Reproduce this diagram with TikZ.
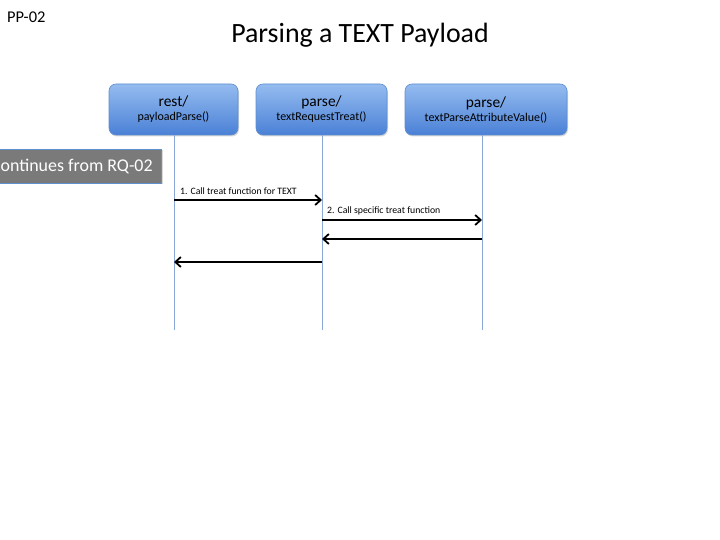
\documentclass[tikz,border=0pt]{standalone}
\usepackage{fontspec}
\setmainfont{Carlito}
\usetikzlibrary{arrows.meta,shadows}
\definecolor{boxtop}{HTML}{95BCF0}
\definecolor{boxbot}{HTML}{4A80D6}
\definecolor{boxline}{HTML}{5E8FCF}
\definecolor{lifeline}{HTML}{8AA8D8}
\definecolor{greybox}{HTML}{7A7A7A}
\tikzset{
  actor/.style={draw=boxline, line width=0.6bp, rounded corners=7bp, top color=boxtop, bottom color=boxbot,
    minimum height=51bp, align=center, inner sep=0pt, drop shadow={shadow xshift=1bp,shadow yshift=-1.5bp,opacity=0.3}},
  life/.style={draw=lifeline, line width=1bp},
  msg/.style={draw=black, line width=1.1bp, -{Straight Barb[length=5.5bp,width=10bp,line width=1.8bp]}},
  lbl/.style={font=\fontsize{9.8}{11}\selectfont, anchor=south west, inner sep=0pt},
}
\begin{document}
\begin{tikzpicture}[x=1bp,y=-1bp]
\useasboundingbox (0,0) rectangle (720,540);
\clip (0,0) rectangle (720,540);
\fill[white] (0,0) rectangle (720,540);
\node[anchor=west, font=\fontsize{16.5}{18}\selectfont, inner sep=0pt] (pp) at (7,17) {PP-02};
\node[font=\fontsize{28}{32}\selectfont, inner sep=0pt] (title) at (360,35) {Parsing a TEXT Payload};

\node[actor, minimum width=129bp] (a1) at (173.5,109.5) {{\fontsize{15.5}{17}\selectfont rest/}\\[2bp]{\fontsize{12}{13}\selectfont payloadParse()}};
\node[actor, minimum width=131bp] (a2) at (321.5,109.5) {{\fontsize{15.5}{17}\selectfont parse/}\\[2bp]{\fontsize{12}{13}\selectfont textRequestTreat()}};
\node[actor, minimum width=162bp] (a3) at (486,109.5) {{\fontsize{15.5}{17}\selectfont parse/}\\[2bp]{\fontsize{12}{13}\selectfont textParseAttributeValue()}};

\coordinate (e1) at (174,330);
\coordinate (e2) at (322,330);
\coordinate (e3) at (482,330);
\draw[life] (a1.south -| e1) -- (e1);
\draw[life] (a2.south -| e2) -- (e2);
\draw[life] (a3.south -| e3) -- (e3);

\node[draw=boxline, line width=0.6bp, fill=greybox, text=white, anchor=east, minimum height=34bp, inner xsep=9bp, inner ysep=0pt,
  font=\fontsize{18}{20}\selectfont, drop shadow={shadow xshift=1bp,shadow yshift=-1.5bp,opacity=0.3}] (cont) at (162,166) {Continues from RQ-02};

\coordinate (m1a) at (174,200); \coordinate (m1b) at (322,200);
\coordinate (m2a) at (322,220); \coordinate (m2b) at (482,220);
\coordinate (m3a) at (482,239); \coordinate (m3b) at (322,239);
\coordinate (m4a) at (322,262); \coordinate (m4b) at (174,262);
\draw[msg] (m1a) -- (m1b);
\node[lbl] (l1) at ([xshift=6bp,yshift=5bp]m1a) {1. Call treat function for TEXT};
\draw[msg] (m2a) -- (m2b);
\node[lbl] (l2) at ([xshift=5bp,yshift=5bp]m2a) {2. Call specific treat function};
\draw[msg] (m3a) -- (m3b);
\draw[msg] (m4a) -- (m4b);
\end{tikzpicture}
\end{document}
